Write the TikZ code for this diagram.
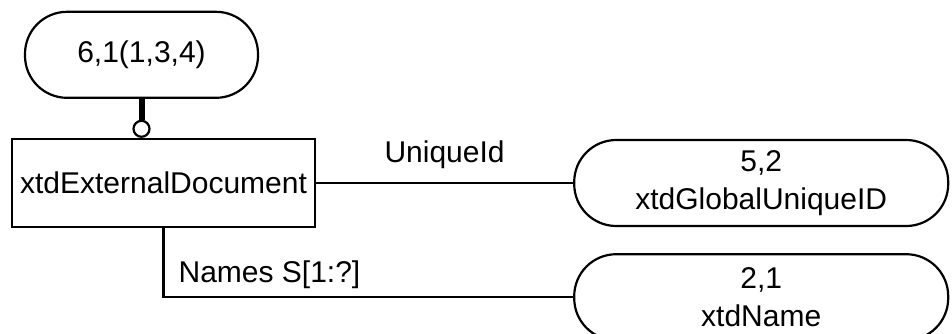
\documentclass[tikz,border=0pt]{standalone}
\usepackage{fontspec}
\setmainfont{Liberation Sans}
\usetikzlibrary{positioning}

\begin{document}
\begin{tikzpicture}[
    x=1pt, y=1pt,
    entity/.style={rectangle, draw, line width=1.1pt, minimum width=151.5pt, minimum height=44pt, inner sep=0pt, align=center, font=\fontsize{15}{19}\selectfont},
    typeref/.style={rectangle, draw, rounded corners=21pt, line width=1.1pt, minimum height=43pt, inner sep=0pt, align=center, font=\fontsize{15}{19}\selectfont},
    ring/.style={circle, draw, fill=white, line width=1.1pt, minimum size=8pt, inner sep=0pt},
    link/.style={line width=1.1pt},
    stem/.style={line width=3pt},
    rolename/.style={font=\fontsize{15}{19}\selectfont, inner sep=0pt}
]
\useasboundingbox (0,0) rectangle (476,-166.5);
\clip (0,0) rectangle (476,-166.5);

% Entity
\node[entity] (doc) at (81.75,-91.5) {xtdExternalDocument};

% Supertype
\node[typeref, minimum width=116.5pt, above=19.5pt of doc, xshift=-11pt] (super) {6,1(1,3,4)};
\node[ring, anchor=south] (opt) at (super.south |- doc.north) {};

% Attribute types
\node[typeref, minimum width=187pt, right=128.5pt of doc] (gid) {5,2\\xtdGlobalUniqueID};
\node[typeref, minimum width=187pt, below=13pt of gid] (name) {2,1\\xtdName};

% Connectors
\draw[stem] (super) -- (opt);
\draw[link] (doc) -- node[rolename, anchor=south, yshift=6.5pt] {UniqueId} (gid);
\draw[link] (doc) |- node[rolename, pos=0.5, anchor=south west, xshift=7pt, yshift=3.5pt] {Names S[1:?]} (name);

\end{tikzpicture}
\end{document}
